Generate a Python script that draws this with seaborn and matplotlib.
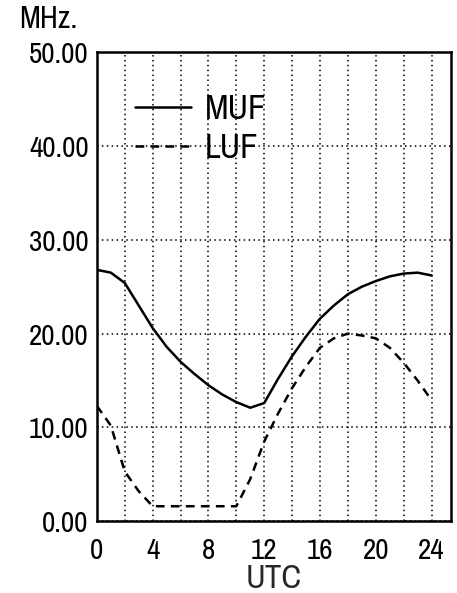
import matplotlib
matplotlib.use("Agg")
import matplotlib.pyplot as plt
from matplotlib import font_manager
import seaborn as sns
import pandas as pd

# hours UTC
hours = list(range(0, 25))
muf = [26.8, 26.5, 25.4, 23.0, 20.6, 18.6, 17.0, 15.7, 14.5, 13.5, 12.7, 12.1, 12.6,
       15.2, 17.6, 19.7, 21.6, 23.0, 24.2, 25.0, 25.6, 26.1, 26.4, 26.5, 26.2]
luf = [12.3, 10.2, 5.3, 3.2, 1.6, 1.6, 1.6, 1.6, 1.6, 1.6, 1.6, 4.5, 8.5,
       11.5, 14.2, 16.5, 18.5, 19.5, 20.0, 19.8, 19.5, 18.5, 16.9, 15.0, 12.9]
yticks = [0, 10, 20, 30, 40, 50]
xticks = [0, 4, 8, 12, 16, 20, 24]

df = pd.DataFrame({
    "UTC": hours * 2,
    "MHz": muf + luf,
    "curve": ["MUF"] * len(hours) + ["LUF"] * len(hours),
})

sns.set_style("white")
names = sorted({f.name for f in font_manager.fontManager.ttflist})
narrow = [n for n in names if "Narrow" in n or "Condensed" in n]
plt.rcParams["font.family"] = narrow[:1] + ["DejaVu Sans"]
plt.rcParams["font.stretch"] = "condensed"
plt.rcParams["text.color"] = "black"
plt.rcParams["xtick.color"] = "black"
plt.rcParams["ytick.color"] = "black"

fig = plt.figure(figsize=(4.57, 5.93), dpi=100)
ax = fig.add_axes([0.212, 0.121, 0.775, 0.791])

sns.lineplot(data=df, x="UTC", y="MHz", style="curve", color="black",
             dashes={"MUF": "", "LUF": (3.5, 2.5)}, linewidth=1.8, ax=ax)

ax.set_xlim(0, 25.4)
ax.set_ylim(0, 50)
ax.set_xticks(xticks)
ax.set_xticklabels([str(t) for t in xticks], fontsize=21)
ax.set_yticks(yticks)
ax.set_yticklabels(["%.2f" % t for t in yticks], fontsize=21)
ax.set_xticks(range(2, 25, 2), minor=True)
ax.tick_params(length=0, which="both")
ax.tick_params(axis="x", pad=11)
ax.tick_params(axis="y", pad=6)
ax.grid(True, which="both", axis="x", color="black", linestyle=(0, (1, 2.2)), linewidth=1.1)
ax.grid(True, which="major", axis="y", color="black", linestyle=(0, (1, 2.2)), linewidth=1.1)
for s in ax.spines.values():
    s.set_color("black")
    s.set_linewidth(1.8)

ax.set_xlabel("UTC", fontsize=24, labelpad=0)
ax.set_ylabel("")
fig.text(0.042, 0.968, "MHz.", fontsize=22, va="center", ha="left")

ax.legend(loc="upper left", bbox_to_anchor=(0.02, 0.98), frameon=False,
          fontsize=25, handlelength=1.6, handletextpad=0.4, labelspacing=0.22,
          title=None)

fig.savefig("out.png", dpi=100)
